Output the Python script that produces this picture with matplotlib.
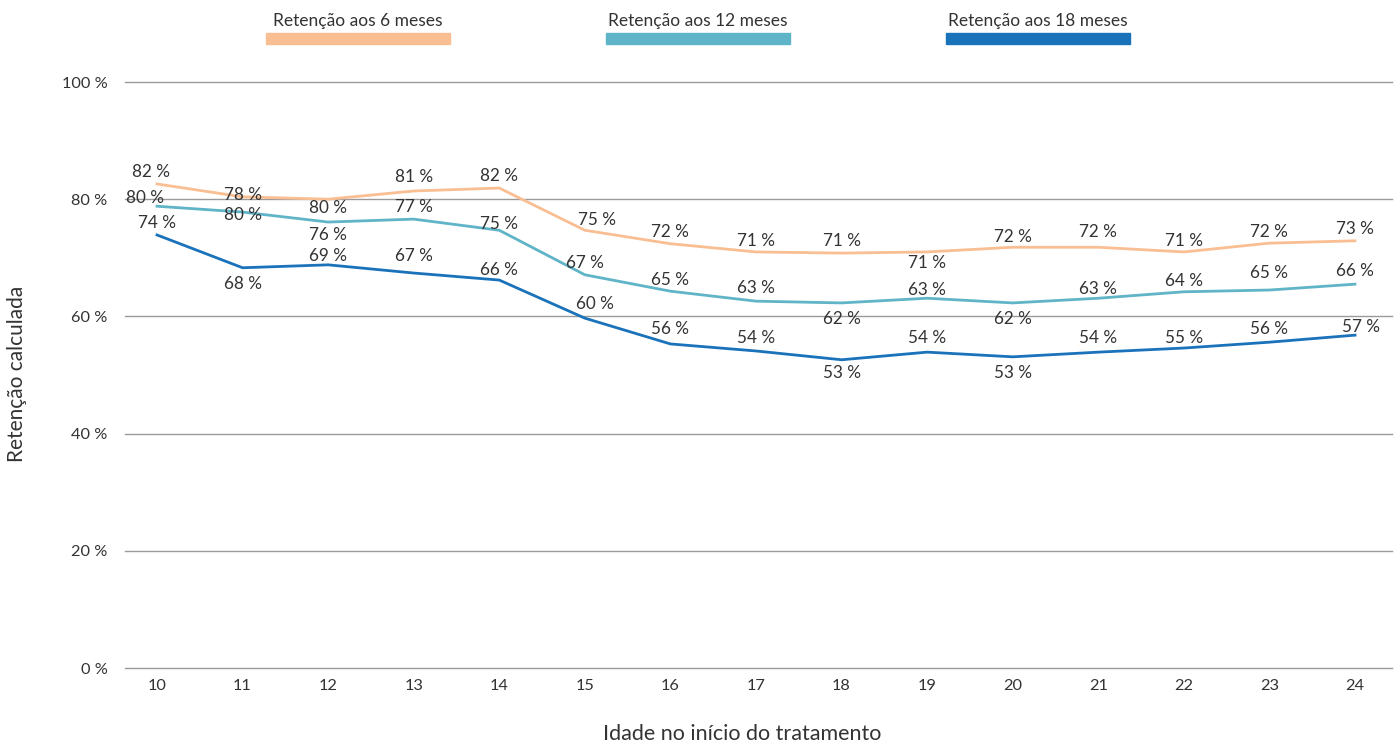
import matplotlib
matplotlib.use("Agg")
import matplotlib.pyplot as plt
from matplotlib.patches import Rectangle

plt.rcParams['font.family'] = ['Lato', 'DejaVu Sans']

ages = [10, 11, 12, 13, 14, 15, 16, 17, 18, 19, 20, 21, 22, 23, 24]
series_names = ["Retenção aos 6 meses", "Retenção aos 12 meses", "Retenção aos 18 meses"]
ret6 = [82.6, 80.4, 80.0, 81.4, 81.9, 74.7, 72.4, 71.0, 70.8, 71.0, 71.8, 71.8, 71.0, 72.5, 72.9]
ret12 = [78.8, 77.8, 76.1, 76.6, 74.7, 67.1, 64.3, 62.6, 62.3, 63.1, 62.3, 63.1, 64.2, 64.5, 65.5]
ret18 = [73.9, 68.3, 68.8, 67.4, 66.2, 59.7, 55.3, 54.1, 52.6, 53.9, 53.1, 53.9, 54.6, 55.6, 56.8]
labels6 = [82, 78, 80, 81, 82, 75, 72, 71, 71, 71, 72, 72, 71, 72, 73]
labels12 = [80, 80, 76, 77, 75, 67, 65, 63, 62, 63, 62, 63, 64, 65, 66]
labels18 = [74, 68, 69, 67, 66, 60, 56, 54, 53, 54, 53, 54, 55, 56, 57]
yticks = [0, 20, 40, 60, 80, 100]

# label placement: offsets in pixels (dx, dy) relative to the point
off6 = [(-6, 12), (0, 2), (0, -9), (0, 14), (0, 12), (12, 10), (0, 12), (0, 11), (0, 12), (0, -11), (0, 10), (0, 15), (0, 11), (0, 11), (0, 12)]
off12 = [(-12, 8), (0, -3), (0, -13), (0, 12), (0, 6), (0, 12), (0, 11), (0, 13), (0, -16), (0, 8), (0, -16), (0, 9), (0, 11), (0, 17), (0, 13)]
off18 = [(0, 12), (0, -16), (0, 9), (0, 17), (0, 10), (10, 14), (0, 15), (0, 13), (0, -13), (0, 14), (0, -16), (0, 14), (0, 10), (0, 13), (6, 8)]

colors = ["#F9BE92", "#5FB4C8", "#1A73BA"]
text_color = "#333333"

W, H = 1399, 742
fig = plt.figure(figsize=(W / 100, H / 100), dpi=100)
ax = fig.add_axes([125 / W, 1 - 668 / H, (1392 - 125) / W, (668 - 82) / H])

ax.set_xlim(10 - 32 / 85.57, 24 + 37 / 85.57)
ax.set_ylim(0, 100)

for v in yticks:
    ax.axhline(v, color="#9a9a9a", lw=1.0, zorder=1, clip_on=False)

for vals, labs, offs, c in zip([ret6, ret12, ret18], [labels6, labels12, labels18], [off6, off12, off18], colors):
    ax.plot(ages, vals, color=c, lw=2.0, zorder=3, solid_joinstyle='round')
    for x, y, l, (dx, dy) in zip(ages, vals, labs, offs):
        ax.annotate(f"{l} %", (x, y), xytext=(dx * 0.72, dy * 0.72), textcoords="offset points",
                    ha="center", va="center", fontsize=12.3, color=text_color, zorder=4)

ax.set_xticks(ages)
ax.set_xticklabels([str(a) for a in ages])
ax.set_yticks(yticks)
ax.set_yticklabels([f"{v} %" for v in yticks])
ax.tick_params(axis="both", length=0, labelsize=11.8, colors=text_color)
ax.tick_params(axis="x", pad=8)
ax.tick_params(axis="y", pad=12.5)
for s in ax.spines.values():
    s.set_visible(False)

fig.text(742 / W, 1 - 734 / H, "Idade no início do tratamento", ha="center", va="center",
         fontsize=15.5, color=text_color)
fig.text(17 / W, 1 - 374 / H, "Retenção calculada", ha="center", va="center", rotation=90,
         fontsize=15, color=text_color)

# legend
leg_x = [266, 606, 946]
for name, c, lx in zip(series_names, colors, leg_x):
    fig.patches.append(Rectangle((lx / W, 1 - 44 / H), 184 / W, 11 / H, transform=fig.transFigure,
                                 color=c, zorder=5))
    fig.text((lx + 92) / W, 1 - 21 / H, name, ha="center", va="center", fontsize=12.5,
             color=text_color)

fig.savefig("out.png", dpi=100)
